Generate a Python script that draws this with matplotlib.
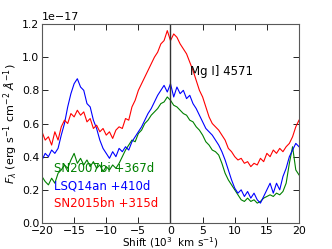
import numpy as np
import matplotlib
matplotlib.use("Agg")
import matplotlib.pyplot as plt

# =====================================================
# data (flux in units of 1e-17)
# =====================================================
shift = np.arange(-20, 20.5, 0.5)

red_2015bn = [0.55, 0.50, 0.52, 0.47, 0.55, 0.50, 0.58, 0.62, 0.60, 0.66,
              0.64, 0.68, 0.65, 0.67, 0.61, 0.63, 0.57, 0.59, 0.55, 0.57,
              0.53, 0.55, 0.51, 0.56, 0.58, 0.57, 0.63, 0.62, 0.70, 0.74,
              0.80, 0.84, 0.88, 0.92, 0.96, 1.00, 1.03, 1.08, 1.10, 1.16,
              1.10, 1.14, 1.12, 1.08, 1.05, 1.02, 0.97, 0.92, 0.86, 0.80,
              0.76, 0.70, 0.64, 0.60, 0.58, 0.56, 0.53, 0.50, 0.45, 0.43,
              0.40, 0.38, 0.39, 0.36, 0.37, 0.34, 0.36, 0.35, 0.39, 0.37,
              0.42, 0.40, 0.44, 0.42, 0.45, 0.43, 0.46, 0.48, 0.52, 0.58,
              0.62]

blue_lsq14an = [0.38, 0.42, 0.40, 0.44, 0.42, 0.45, 0.53, 0.60, 0.70, 0.78,
                0.84, 0.87, 0.82, 0.80, 0.72, 0.70, 0.62, 0.57, 0.50, 0.45,
                0.42, 0.39, 0.43, 0.40, 0.45, 0.43, 0.46, 0.44, 0.49, 0.52,
                0.55, 0.58, 0.62, 0.66, 0.69, 0.73, 0.77, 0.80, 0.83, 0.79,
                0.84, 0.76, 0.82, 0.78, 0.80, 0.75, 0.77, 0.72, 0.69, 0.65,
                0.61, 0.57, 0.55, 0.53, 0.50, 0.47, 0.43, 0.38, 0.32, 0.26,
                0.21, 0.18, 0.20, 0.16, 0.19, 0.15, 0.18, 0.14, 0.12, 0.16,
                0.20, 0.24, 0.18, 0.24, 0.20, 0.28, 0.33, 0.40, 0.44, 0.48,
                0.46]

green_2007bi = [0.28, 0.25, 0.23, 0.27, 0.24, 0.30, 0.32, 0.35, 0.33, 0.38,
                0.42, 0.36, 0.39, 0.35, 0.38, 0.34, 0.37, 0.33, 0.35, 0.31,
                0.34, 0.32, 0.35, 0.33, 0.36, 0.40, 0.44, 0.47, 0.50, 0.49,
                0.54, 0.56, 0.60, 0.62, 0.65, 0.67, 0.69, 0.72, 0.73, 0.76,
                0.74, 0.71, 0.70, 0.68, 0.66, 0.65, 0.62, 0.61, 0.58, 0.56,
                0.53, 0.49, 0.47, 0.44, 0.43, 0.41, 0.36, 0.30, 0.26, 0.23,
                0.20, 0.17, 0.14, 0.13, 0.15, 0.13, 0.14, 0.12, 0.13, 0.15,
                0.16, 0.17, 0.16, 0.18, 0.17, 0.19, 0.24, 0.36, 0.46, 0.32,
                0.29]

labels = ["SN2007bi +367d", "LSQ14an +410d", "SN2015bn +315d"]
colors = ["green", "blue", "red"]

# =====================================================
# plot
# =====================================================
plt.rcParams["font.size"] = 8
plt.rcParams["mathtext.fontset"] = "dejavusans"

fig = plt.figure(figsize=(3.32, 2.49), dpi=100)
ax = fig.add_axes([0.1265, 0.1044, 0.7741, 0.7992])

for series, c in zip([green_2007bi, blue_lsq14an, red_2015bn], colors):
    ax.plot(shift, np.array(series) * 1e-17, color=c, linewidth=0.8)

ax.axvline(0, color="0.2", linewidth=1.0)

ax.set_xlim(-20, 20)
ax.set_ylim(0, 1.2e-17)
ax.set_xticks(np.arange(-20, 21, 5))
ax.set_yticks(np.arange(0, 1.21, 0.2) * 1e-17)
ax.tick_params(direction="in", top=True, right=True, length=4, width=0.6,
               pad=2, labelsize=7.8)
for sp in ax.spines.values():
    sp.set_color("0.35")

ax.set_xlabel("Shift (10$^3$  km s$^{-1}$)", fontsize=7.5, labelpad=-0.5)
ax.set_ylabel(r"$F_\lambda$ (erg s$^{-1}$ cm$^{-2}$ $\AA^{-1}$)", labelpad=1)

ax.text(3.0, 0.89e-17, "Mg I] 4571", fontsize=8.5, color="black")

for i, (lab, c) in enumerate(zip(labels, colors)):
    ax.text(-18.1, (0.33 - 0.105 * i) * 1e-17, lab, color=c, fontsize=8.5, va="center")

fig.savefig("out.png", dpi=100)
